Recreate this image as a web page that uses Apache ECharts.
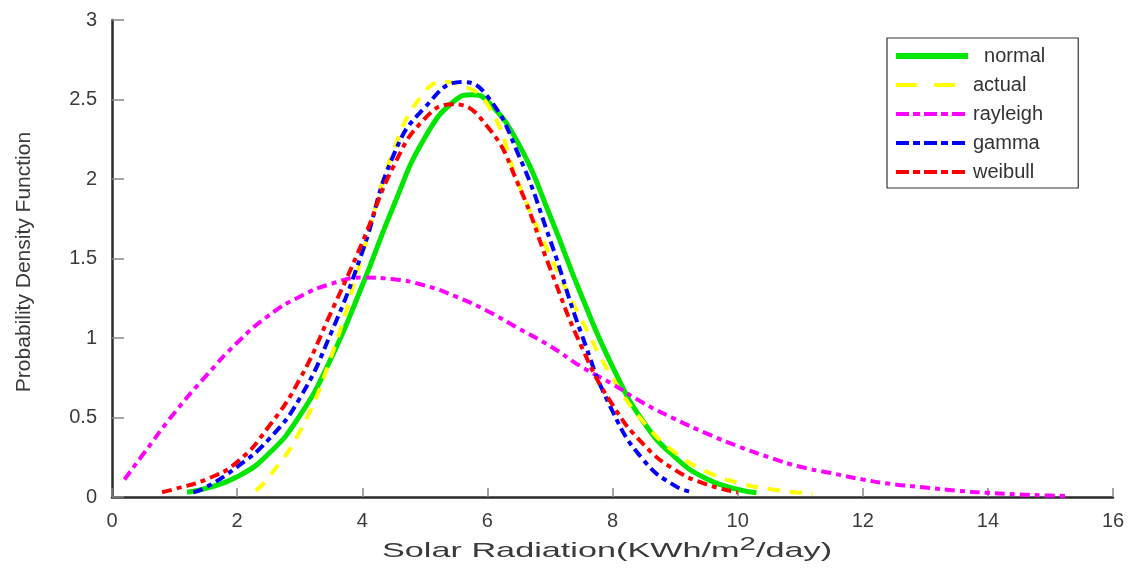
<!DOCTYPE html>
<html>
<head>
<meta charset="utf-8">
<title>Solar radiation PDF fits</title>
<script src="https://cdn.jsdelivr.net/npm/echarts@6/dist/echarts.min.js"></script>
<style>
  html, body { margin: 0; padding: 0; background: #fff; }
  #chart { width: 1132px; height: 569px; }
</style>
</head>
<body>
<div id="chart"></div>
<script>
// Solar radiation values (KWh/m^2/day) and the fitted / observed densities
const normalX   = [1.2, 1.5, 2, 2.5, 3, 3.5, 4, 4.5, 5, 5.5, 5.75, 6, 6.5, 7, 7.5, 8, 8.5, 9, 9.5, 10, 10.3];
const normalY   = [0.03, 0.054, 0.127, 0.27, 0.51, 0.87, 1.33, 1.83, 2.26, 2.50, 2.53, 2.49, 2.22, 1.77, 1.27, 0.82, 0.47, 0.25, 0.115, 0.048, 0.027];

const actualX   = [2.3, 2.5, 3, 3.5, 4, 4.5, 5, 5.35, 5.5, 6, 6.5, 7, 7.5, 8, 8.5, 9, 9.5, 10, 10.5, 11.2];
const actualY   = [0.04, 0.12, 0.41, 0.88, 1.52, 2.18, 2.55, 2.61, 2.60, 2.47, 1.97, 1.52, 1.12, 0.75, 0.47, 0.28, 0.16, 0.09, 0.05, 0.02];

const rayleighX = [0.2, 0.5, 1, 1.5, 2, 2.5, 3, 3.5, 4, 4.5, 5, 5.5, 6, 6.5, 7, 7.5, 8, 8.5, 9, 9.5, 10, 10.5, 11, 11.5, 12, 12.5, 13, 13.5, 14, 14.5, 15, 15.3];
const rayleighY = [0.11, 0.27, 0.53, 0.76, 0.97, 1.14, 1.26, 1.34, 1.38, 1.37, 1.33, 1.26, 1.17, 1.06, 0.95, 0.82, 0.71, 0.59, 0.49, 0.40, 0.32, 0.25, 0.19, 0.15, 0.11, 0.08, 0.06, 0.04, 0.026, 0.016, 0.009, 0.006];

const gammaX    = [1.3, 1.5, 2, 2.5, 3, 3.5, 4, 4.5, 5, 5.6, 6, 6.5, 7, 7.5, 8, 8.5, 9, 9.3];
const gammaY    = [0.03, 0.06, 0.19, 0.36, 0.62, 1.03, 1.54, 2.15, 2.45, 2.61, 2.52, 2.15, 1.62, 1.03, 0.54, 0.23, 0.07, 0.03];

const weibullX  = [0.8, 1, 1.5, 2, 2.5, 3, 3.5, 4, 4.5, 5, 5.45, 6, 6.5, 7, 7.5, 8, 8.5, 9, 9.5, 10];
const weibullY  = [0.03, 0.05, 0.11, 0.22, 0.44, 0.74, 1.16, 1.6, 2.08, 2.38, 2.47, 2.33, 1.96, 1.44, 0.95, 0.58, 0.33, 0.17, 0.08, 0.03];

const xTicks = { min: 0, max: 16, interval: 2 };
const yTicks = { min: 0, max: 3, interval: 0.5 };

const pairs = (xs, ys) => xs.map((x, i) => [x, ys[i]]);

const FONT = '"Liberation Sans", Arial, Helvetica, sans-serif';
const dashDot = [10, 5, 5, 5];
const keyDashDot = [13, 4, 7, 4];

function curve(name, xs, ys, color, width, dash) {
  return {
    name: name,
    type: 'line',
    data: pairs(xs, ys),
    smooth: true,
    symbol: 'none',
    showSymbol: false,
    lineStyle: { color: color, width: width, type: dash, cap: 'butt' },
    itemStyle: { color: color },
    emphasis: { disabled: true }
  };
}

const chart = echarts.init(document.getElementById('chart'), null, { renderer: 'canvas' });

chart.setOption({
  animation: false,
  backgroundColor: '#ffffff',
  grid: { left: 112, right: 19, top: 20, bottom: 72, containLabel: false },
  xAxis: {
    type: 'value',
    min: xTicks.min, max: xTicks.max, interval: xTicks.interval,
    axisLine: { show: true, onZero: false, lineStyle: { color: '#2b2b2b', width: 2.5 } },
    axisTick: { show: true, inside: true, length: 9, lineStyle: { color: '#888', width: 1.5 } },
    axisLabel: { margin: 14, color: '#3c3c3c', fontSize: 20, fontFamily: FONT },
    splitLine: { show: false }
  },
  yAxis: {
    type: 'value',
    min: yTicks.min, max: yTicks.max, interval: yTicks.interval,
    axisLine: { show: true, onZero: false, lineStyle: { color: '#2b2b2b', width: 2.5 } },
    axisTick: { show: true, inside: true, length: 12, lineStyle: { color: '#888', width: 1.5 } },
    axisLabel: { margin: 15, color: '#3c3c3c', fontSize: 20, fontFamily: FONT },
    splitLine: { show: false }
  },
  legend: {
    orient: 'vertical',
    left: 887, top: 38,
    padding: [8, 33, 6, 6],
    itemWidth: 72, itemHeight: 14, itemGap: 9,
    borderColor: '#333', borderWidth: 1.2, borderRadius: 0,
    backgroundColor: '#fff',
    selectedMode: false,
    // line-only keys: hide the marker drawn in the middle of each key
    itemStyle: { opacity: 0 },
    formatter: n => (n === 'normal' ? '  ' + n : n),
    textStyle: { fontSize: 20, fontFamily: FONT, color: '#333' },
    data: [
      { name: 'normal',   lineStyle: { width: 6, type: 'solid' } },
      { name: 'actual',   lineStyle: { width: 4, type: [21, 17] } },
      { name: 'rayleigh', lineStyle: { width: 4, type: keyDashDot } },
      { name: 'gamma',    lineStyle: { width: 4, type: keyDashDot } },
      { name: 'weibull',  lineStyle: { width: 4, type: keyDashDot } }
    ]
  },
  graphic: [
    {
      type: 'text', x: 24, y: 262, rotation: Math.PI / 2,
      style: {
        text: 'Probability Density Function',
        font: '21px ' + FONT, fill: '#3a3a3a',
        align: 'center', verticalAlign: 'middle',
        textAlign: 'center', textVerticalAlign: 'middle'
      }
    },
    {
      type: 'text', x: 607, y: 549, scaleX: 1.63,
      style: {
        text: '{a|Solar Radiation(KWh/m}{s|2}{a|/day)}',
        fill: '#3a3a3a',
        align: 'center', verticalAlign: 'middle',
        textAlign: 'center', textVerticalAlign: 'middle',
        rich: {
          a: { fontSize: 21, fontFamily: FONT, fill: '#3a3a3a', verticalAlign: 'bottom' },
          s: { fontSize: 18, fontFamily: FONT, fill: '#3a3a3a', verticalAlign: 'bottom', padding: [0, 0, 8, 0] }
        }
      }
    }
  ],
  series: [
    curve('normal', normalX, normalY, '#00e600', 5, 'solid'),
    curve('actual', actualX, actualY, '#ffff00', 4, [12, 10]),
    curve('rayleigh', rayleighX, rayleighY, '#ff00ff', 4, dashDot),
    curve('gamma', gammaX, gammaY, '#0000ff', 4, dashDot),
    curve('weibull', weibullX, weibullY, '#ff0000', 4, dashDot)
  ]
});
</script>
</body>
</html>
